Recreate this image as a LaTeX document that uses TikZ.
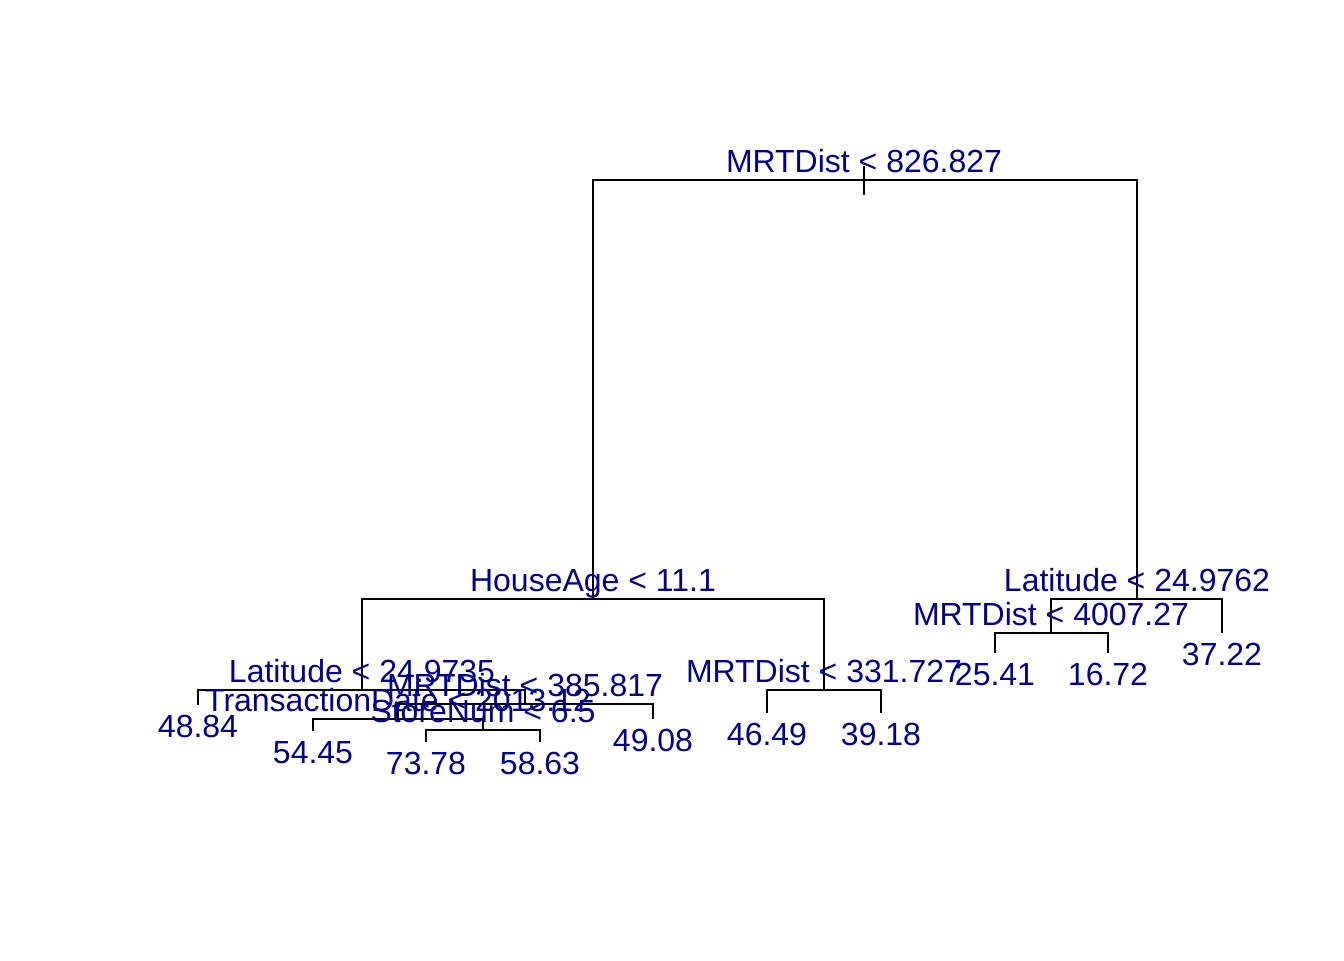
\documentclass[tikz,border=0pt]{standalone}
\usepackage{fontspec}
\setmainfont{Liberation Sans}
\usepackage{tikz}
\usetikzlibrary{positioning,calc}
\definecolor{treeBlue}{RGB}{0,0,139}

\begin{document}
\begin{tikzpicture}[x=0.375pt, y=-0.375pt,
        split/.style={anchor=base, yshift=3pt, text=treeBlue, font=\fontsize{12}{14}\selectfont, inner sep=0pt},
        leaf/.style={anchor=base, yshift=-12pt, text=treeBlue, font=\fontsize{12}{14}\selectfont, inner sep=0pt},
        edge/.style={line width=0.75pt, black}
      ]
        \useasboundingbox (0,0) rectangle (1344,960);

        % Split points
        \coordinate (root) at (864,180);
        \coordinate (rtop) at (864,166);
        \coordinate (rbot) at (864,195);
        \coordinate (age) at (593,599);
        \coordinate (latA) at (1137,599);
        \coordinate (latB) at (362,690);
        \coordinate (mrtA) at (1051,633);
        \coordinate (mrtB) at (824,690);
        \coordinate (mrtC) at (525,704);
        \coordinate (date) at (398,719);
        \coordinate (store) at (483,730);

        % Leaves
        \coordinate (v3722) at (1222,633);
        \coordinate (v2541) at (995,653);
        \coordinate (v1672) at (1108,653);
        \coordinate (v4649) at (767,713);
        \coordinate (v3918) at (881,713);
        \coordinate (v4884) at (198,705);
        \coordinate (v4908) at (653,719);
        \coordinate (v5445) at (313,731);
        \coordinate (v7378) at (426,742);
        \coordinate (v5863) at (540,742);

        % Branches
        \draw[edge] (rtop) -- (rbot);
        \draw[edge] (root) -| (age);
        \draw[edge] (root) -| (latA);
        \draw[edge] (age) -| (latB);
        \draw[edge] (age) -| (mrtB);
        \draw[edge] (latA) -| (mrtA);
        \draw[edge] (latA) -| (v3722);
        \draw[edge] (mrtA) -| (v2541);
        \draw[edge] (mrtA) -| (v1672);
        \draw[edge] (mrtB) -| (v4649);
        \draw[edge] (mrtB) -| (v3918);
        \draw[edge] (latB) -| (v4884);
        \draw[edge] (latB) -| (mrtC);
        \draw[edge] (mrtC) -| (date);
        \draw[edge] (mrtC) -| (v4908);
        \draw[edge] (date) -| (v5445);
        \draw[edge] (date) -| (store);
        \draw[edge] (store) -| (v7378);
        \draw[edge] (store) -| (v5863);

        % Split labels
        \node[split] (troot) at (root) {MRTDist < 826.827};
        \node[split] (tage) at (age) {HouseAge < 11.1};
        \node[split] (tlatA) at (latA) {Latitude < 24.9762};
        \node[split] (tmrtA) at (mrtA) {MRTDist < 4007.27};
        \node[split] (tmrtB) at (mrtB) {MRTDist < 331.727};
        \node[split] (tlatB) at (latB) {Latitude < 24.9735};
        \node[split] (tmrtC) at (mrtC) {MRTDist < 385.817};
        \node[split] (tdate) at (date) {TransactionDate < 2013.12};
        \node[split] (tstore) at (store) {StoreNum < 6.5};

        % Leaf labels
        \node[leaf] (t3722) at (v3722) {37.22};
        \node[leaf] (t2541) at (v2541) {25.41};
        \node[leaf] (t1672) at (v1672) {16.72};
        \node[leaf] (t4649) at (v4649) {46.49};
        \node[leaf] (t3918) at (v3918) {39.18};
        \node[leaf] (t4884) at (v4884) {48.84};
        \node[leaf] (t4908) at (v4908) {49.08};
        \node[leaf] (t5445) at (v5445) {54.45};
        \node[leaf] (t7378) at (v7378) {73.78};
        \node[leaf] (t5863) at (v5863) {58.63};
      \end{tikzpicture}
\end{document}
